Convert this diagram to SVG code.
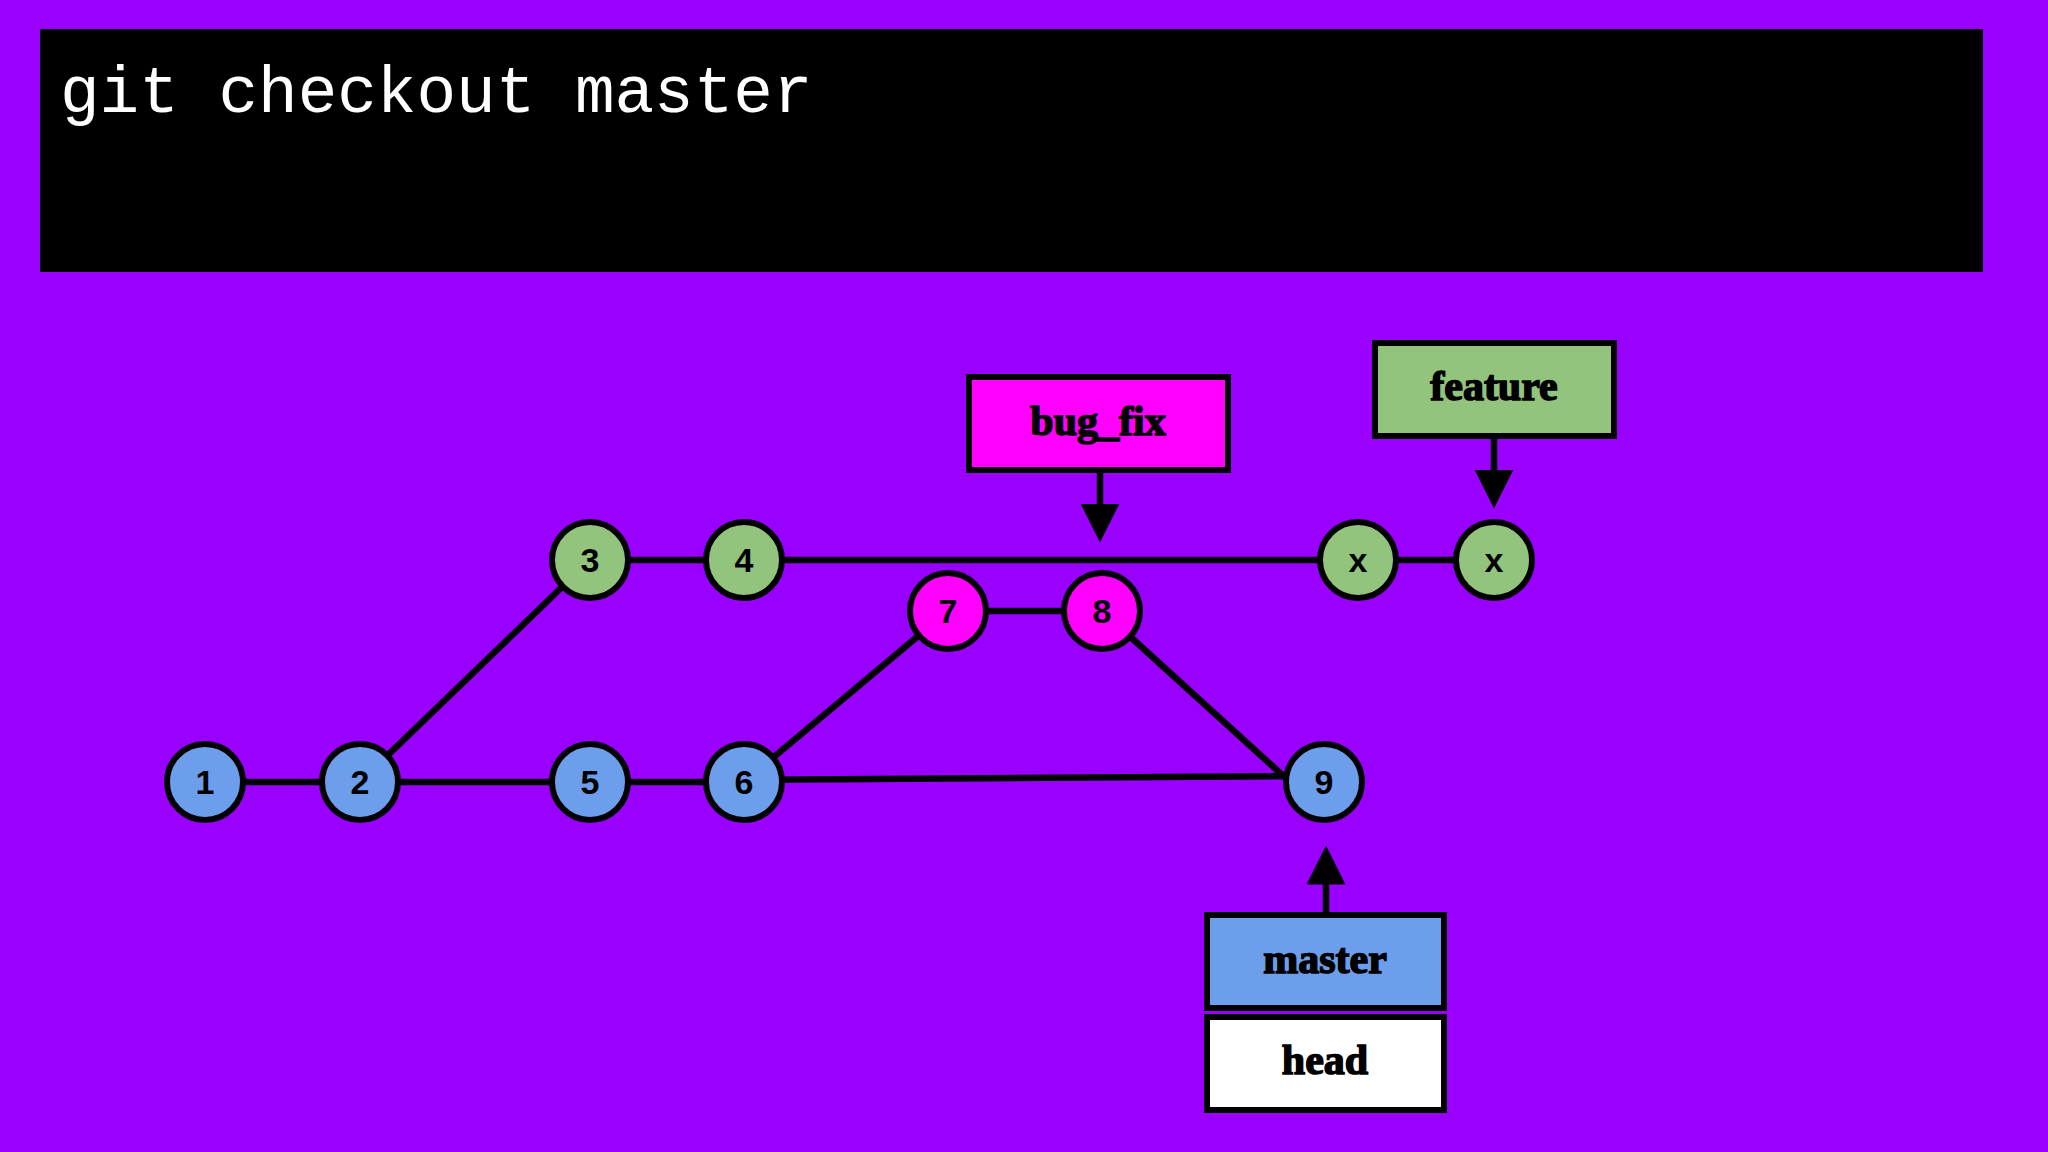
<svg xmlns="http://www.w3.org/2000/svg" width="2048" height="1152" viewBox="0 0 2048 1152">
<style>
.n circle{stroke:#000;stroke-width:6}
.n text{font-family:"Liberation Sans",Arial,sans-serif;font-weight:bold;font-size:34px;text-anchor:middle;dominant-baseline:central}
.b{fill:#6d9eeb}.g{fill:#93c47d}.m{fill:#ff00ff}
.l rect{stroke:#000;stroke-width:6}
.l text{font-family:"Liberation Serif",serif;font-weight:900;font-size:42px;text-anchor:middle;dominant-baseline:central;stroke:#000;stroke-width:1.5}
#edges line{stroke:#000;stroke-width:6.5}
</style>
<defs><marker id="ah" markerWidth="6" markerHeight="6" refX="5" refY="3" orient="auto" markerUnits="strokeWidth"><path d="M0,0L6,3L0,6z" fill="#000"/></marker></defs>
<rect width="2048" height="1152" fill="#9900ff"/>
<rect x="40" y="29" width="1943" height="243" fill="#000"/>
<text x="60" y="112" font-family="Liberation Mono,monospace" font-size="66" fill="#fff">git checkout master</text>
<g id="edges">
<line x1="205" y1="782" x2="360" y2="782"/>
<line x1="360" y1="782" x2="590" y2="782"/>
<line x1="590" y1="782" x2="744" y2="782"/>
<line x1="744" y1="780" x2="1290" y2="776"/>
<line x1="360" y1="782" x2="590" y2="560"/>
<line x1="590" y1="560" x2="1494" y2="560"/>
<line x1="744" y1="782" x2="948" y2="611"/>
<line x1="948" y1="611" x2="1102" y2="611"/>
<line x1="1102" y1="611" x2="1290" y2="782"/>
<line x1="1100" y1="470" x2="1100" y2="536" marker-end="url(#ah)"/>
<line x1="1494" y1="436" x2="1494" y2="502" marker-end="url(#ah)"/>
<line x1="1326" y1="914" x2="1326" y2="852" marker-end="url(#ah)"/>
</g>
<g id="n1" class="n"><circle cx="205" cy="782" r="38" class="b"/><text x="205" y="782">1</text></g>
<g id="n2" class="n"><circle cx="360" cy="782" r="38" class="b"/><text x="360" y="782">2</text></g>
<g id="n3" class="n"><circle cx="590" cy="560" r="38" class="g"/><text x="590" y="560">3</text></g>
<g id="n4" class="n"><circle cx="744" cy="560" r="38" class="g"/><text x="744" y="560">4</text></g>
<g id="n5" class="n"><circle cx="590" cy="782" r="38" class="b"/><text x="590" y="782">5</text></g>
<g id="n6" class="n"><circle cx="744" cy="782" r="38" class="b"/><text x="744" y="782">6</text></g>
<g id="n7" class="n"><circle cx="948" cy="611" r="38" class="m"/><text x="948" y="611">7</text></g>
<g id="n8" class="n"><circle cx="1102" cy="611" r="38" class="m"/><text x="1102" y="611">8</text></g>
<g id="n9" class="n"><circle cx="1324" cy="782" r="38" class="b"/><text x="1324" y="782">9</text></g>
<g id="nx1" class="n"><circle cx="1358" cy="560" r="38" class="g"/><text x="1358" y="560">x</text></g>
<g id="nx2" class="n"><circle cx="1494" cy="560" r="38" class="g"/><text x="1494" y="560">x</text></g>
<g id="bug_fix" class="l"><rect x="969" y="377" width="259" height="93" class="m"/><text x="1098" y="421">bug_fix</text></g>
<g id="feature" class="l"><rect x="1375" y="343" width="239" height="93" class="g"/><text x="1494" y="386">feature</text></g>
<g id="master" class="l"><rect x="1207" y="915" width="237" height="93" class="b"/><text x="1325" y="959">master</text></g>
<g id="head" class="l"><rect x="1207" y="1017" width="237" height="93" fill="#fff"/><text x="1325" y="1060">head</text></g>
</svg>
